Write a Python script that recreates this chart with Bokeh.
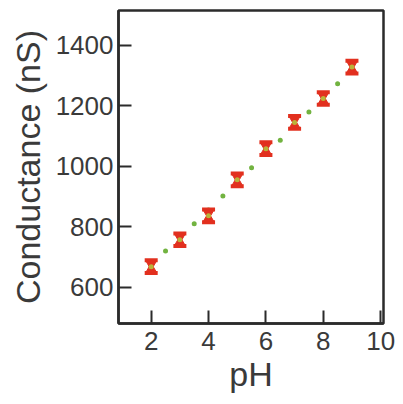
from bokeh.plotting import figure
from bokeh.embed import file_html
from bokeh.resources import INLINE
from bokeh.models import Range1d, FixedTicker

# Data
ph = [2, 3, 4, 5, 6, 7, 8, 9]
conductance = [668, 757, 836, 955, 1058, 1145, 1224, 1328]
err = [21, 21, 21, 21, 21, 21, 21, 21]

fit_x = [2, 2.5, 3, 3.5, 4, 4.5, 5, 5.5, 6, 6.5, 7, 7.5, 8, 8.5, 9]
fit_y = [672, 720, 765, 810, 855, 902, 950, 995, 1040, 1086, 1133, 1179, 1226, 1273, 1320]

x_ticks = [2, 4, 6, 8, 10]
y_ticks = [600, 800, 1000, 1200, 1400]

FONT = "Liberation Sans"
RED = "#e2301f"
GREEN = "#72b340"

p = figure(width=398, height=400, output_backend="svg", toolbar_location=None,
           x_range=Range1d(0.86, 10.1), y_range=Range1d(480, 1515),
           min_border_left=118, min_border_right=15, min_border_top=10, min_border_bottom=77)

p.grid.visible = False
p.background_fill_color = "white"
p.border_fill_color = "white"
p.outline_line_color = "#2b2b2b"
p.outline_line_width = 2.5

for ax in (p.xaxis[0], p.yaxis[0]):
    ax.axis_line_color = "#2b2b2b"
    ax.axis_line_width = 2.5
    ax.major_tick_line_color = "#2b2b2b"
    ax.major_tick_line_width = 2
    ax.major_tick_in = 13
    ax.major_tick_out = 0
    ax.minor_tick_line_color = None
    ax.major_label_text_font = FONT
    ax.major_label_text_font_size = "26px"
    ax.major_label_text_color = "#3a3a3a"
    ax.axis_label_text_font = FONT
    ax.axis_label_text_font_size = "34px"
    ax.axis_label_text_font_style = "normal"
    ax.axis_label_text_color = "#3a3a3a"

p.xaxis[0].ticker = FixedTicker(ticks=x_ticks)
p.yaxis[0].ticker = FixedTicker(ticks=y_ticks)
p.xaxis[0].axis_label = "pH"
p.yaxis[0].axis_label = "Conductance (nS)"
p.xaxis[0].major_label_standoff = 8
p.yaxis[0].major_label_standoff = 5
p.xaxis[0].axis_label_standoff = 2
p.yaxis[0].axis_label_standoff = 6

# fit dots
p.scatter(fit_x, fit_y, size=5, marker="circle", fill_color=GREEN, line_color=None)

# error-bar hourglass markers
top = [c + e for c, e in zip(conductance, err)]
bot = [c - e for c, e in zip(conductance, err)]
upper_mid = [c + e * 0.45 for c, e in zip(conductance, err)]
lower_mid = [c - e * 0.45 for c, e in zip(conductance, err)]
p.segment(ph, bot, ph, top, line_color=RED, line_width=3)
p.scatter(ph, top, marker="dash", size=13, line_color=RED, line_width=4)
p.scatter(ph, bot, marker="dash", size=13, line_color=RED, line_width=4)
p.scatter(ph, upper_mid, marker="inverted_triangle", size=11, fill_color=RED, line_color=RED)
p.scatter(ph, lower_mid, marker="triangle", size=11, fill_color=RED, line_color=RED)
p.scatter(ph, conductance, marker="circle", size=5, fill_color="#b6c23c", line_color=None, alpha=0.9)

open("out.html", "w").write(file_html(p, INLINE))
